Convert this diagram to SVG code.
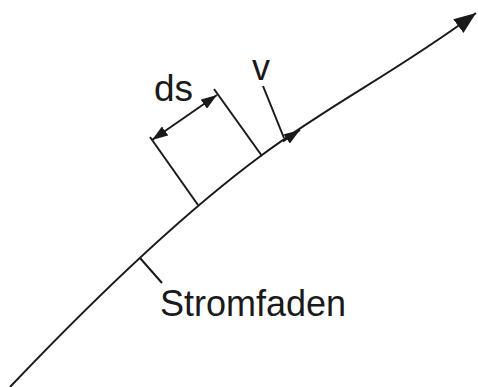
<svg xmlns="http://www.w3.org/2000/svg" width="478" height="387" viewBox="0 0 478 387">
<style>
.ln{fill:none;stroke:#1a1a1a;stroke-width:2}
.tx{font-family:"Liberation Sans",Arial,sans-serif;fill:#1a1a1a}
</style>
<defs>
<marker id="ahs" markerWidth="16" markerHeight="11" refX="16" refY="5.5" orient="auto-start-reverse" markerUnits="userSpaceOnUse" viewBox="0 0 16 11">
<path d="M0,0 L16,5.5 L0,11 Z" fill="#1a1a1a"/>
</marker>
<marker id="ahb" markerWidth="22" markerHeight="17" refX="22" refY="8.5" orient="auto" markerUnits="userSpaceOnUse" viewBox="0 0 22 17">
<path d="M0,0 L22,8.5 L0,17 Z" fill="#1a1a1a"/>
</marker>
</defs>
<g id="connectors">
<path id="stromfaden-curve" class="ln" d="M10,387 C90,303 182,214 262,155 C332,103 398,71 476,13" marker-end="url(#ahb)"/>
<line id="ext-left" class="ln" x1="198" y1="205" x2="150" y2="137"/>
<line id="ext-right" class="ln" x1="262" y1="156" x2="214" y2="89"/>
<line id="ds-arrow" class="ln" x1="152" y1="140" x2="217" y2="95" marker-start="url(#ahs)" marker-end="url(#ahs)"/>
<line id="v-leader" class="ln" x1="263" y1="86" x2="284" y2="138"/>
<line id="v-arrow" class="ln" x1="283" y1="141.5" x2="300" y2="130" marker-end="url(#ahs)"/>
<line id="stromfaden-leader" class="ln" x1="140" y1="258" x2="162" y2="283"/>
</g>
<g id="label-ds"><text class="tx" x="154" y="101" font-size="37">ds</text></g>
<g id="label-v"><text class="tx" x="252" y="80" font-size="36">v</text></g>
<g id="label-stromfaden"><text class="tx" x="160" y="316" font-size="36">Stromfaden</text></g>
</svg>
